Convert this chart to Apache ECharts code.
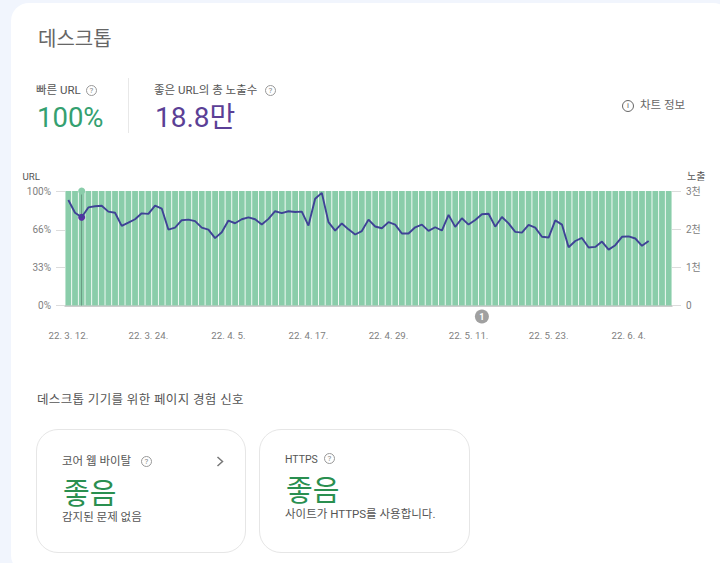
<!DOCTYPE html>
<html lang="ko">
<head>
<meta charset="utf-8">
<title>데스크톱</title>
<script src="https://cdn.jsdelivr.net/npm/echarts@6/dist/echarts.min.js"></script>
<style>
  html, body { margin: 0; padding: 0; width: 720px; height: 563px; overflow: hidden; background: #f1f5fd; }
  body { font-family: Roboto, "Noto Sans CJK KR", sans-serif; color: #555; }
  #sheet { position: absolute; left: 11px; top: 3px; width: 720px; height: 570px; background: #fff; border-radius: 18px; }
  #main { position: absolute; left: 0; top: 0; width: 720px; height: 563px; }
  .t { position: absolute; white-space: nowrap; line-height: 1; }
  .q { position: absolute; width: 9px; height: 9px; border: 1px solid #999; border-radius: 50%; color: #888;
       font-size: 8px; line-height: 9px; text-align: center; }
  .box { position: absolute; top: 429px; height: 122px; border: 1px solid #e6e6e6; border-radius: 22px; background: #fff; }
  #rule { position: absolute; left: 128px; top: 78px; width: 1px; height: 55px; background: #e8e8e8; }
</style>
</head>
<body>
<div id="sheet"></div>
<div id="main"></div>

<div class="t" style="left:38px;top:29px;font-size:20px;color:#666;">데스크톱</div>

<div class="t" style="left:36px;top:85px;font-size:11.5px;">빠른 URL</div>
<div class="q" style="left:86px;top:85px;">?</div>
<div class="t" style="left:37px;top:104px;font-size:27.5px;color:#34a070;">100%</div>
<div id="rule"></div>
<div class="t" style="left:154px;top:85px;font-size:11.5px;">좋은 URL의 총 노출수</div>
<div class="q" style="left:265px;top:85px;">?</div>
<div class="t" style="left:155px;top:104px;font-size:28px;color:#5b3f96;">18.8만</div>

<div class="q" style="left:622px;top:100px;width:10px;height:10px;line-height:10px;border-color:#666;color:#666;">i</div>
<div class="t" style="left:640px;top:100px;font-size:11.5px;color:#666;">차트 정보</div>

<div class="t" style="left:37px;top:394px;font-size:12.5px;letter-spacing:.35px;">데스크톱 기기를 위한 페이지 경험 신호</div>

<div class="box" style="left:36px;width:208px;"></div>
<div class="t" style="left:62px;top:456px;font-size:11.5px;">코어 웹 바이탈</div>
<div class="q" style="left:141px;top:456px;">?</div>
<svg style="position:absolute;left:214px;top:455px;" width="12" height="13"><polyline points="3.5,2 8.5,6.5 3.5,11" fill="none" stroke="#777" stroke-width="1.5"/></svg>
<div class="t" style="left:63px;top:480px;font-size:29px;color:#2a8f50;">좋음</div>
<div class="t" style="left:62px;top:512px;font-size:11.5px;">감지된 문제 없음</div>

<div class="box" style="left:259px;width:209px;"></div>
<div class="t" style="left:285px;top:455px;font-size:10.5px;">HTTPS</div>
<div class="q" style="left:324px;top:453px;">?</div>
<div class="t" style="left:286px;top:477px;font-size:29px;color:#2a8f50;">좋음</div>
<div class="t" style="left:285px;top:509px;font-size:11.5px;">사이트가 HTTPS를 사용합니다.</div>

<script>
var dates = [
  '22. 3. 12.','22. 3. 13.','22. 3. 14.','22. 3. 15.','22. 3. 16.','22. 3. 17.','22. 3. 18.','22. 3. 19.','22. 3. 20.','22. 3. 21.',
  '22. 3. 22.','22. 3. 23.','22. 3. 24.','22. 3. 25.','22. 3. 26.','22. 3. 27.','22. 3. 28.','22. 3. 29.','22. 3. 30.','22. 3. 31.',
  '22. 4. 1.','22. 4. 2.','22. 4. 3.','22. 4. 4.','22. 4. 5.','22. 4. 6.','22. 4. 7.','22. 4. 8.','22. 4. 9.','22. 4. 10.',
  '22. 4. 11.','22. 4. 12.','22. 4. 13.','22. 4. 14.','22. 4. 15.','22. 4. 16.','22. 4. 17.','22. 4. 18.','22. 4. 19.','22. 4. 20.',
  '22. 4. 21.','22. 4. 22.','22. 4. 23.','22. 4. 24.','22. 4. 25.','22. 4. 26.','22. 4. 27.','22. 4. 28.','22. 4. 29.','22. 4. 30.',
  '22. 5. 1.','22. 5. 2.','22. 5. 3.','22. 5. 4.','22. 5. 5.','22. 5. 6.','22. 5. 7.','22. 5. 8.','22. 5. 9.','22. 5. 10.',
  '22. 5. 11.','22. 5. 12.','22. 5. 13.','22. 5. 14.','22. 5. 15.','22. 5. 16.','22. 5. 17.','22. 5. 18.','22. 5. 19.','22. 5. 20.',
  '22. 5. 21.','22. 5. 22.','22. 5. 23.','22. 5. 24.','22. 5. 25.','22. 5. 26.','22. 5. 27.','22. 5. 28.','22. 5. 29.','22. 5. 30.',
  '22. 5. 31.','22. 6. 1.','22. 6. 2.','22. 6. 3.','22. 6. 4.','22. 6. 5.','22. 6. 6.','22. 6. 7.','22. 6. 8.','22. 6. 9.',
  '22. 6. 10.'
];

// fast URL share, every day at 100%
var fastUrl = [
  100,100,100,100,100,100,100,100,100,100,100,100,100,100,100,100,100,100,100,100,
  100,100,100,100,100,100,100,100,100,100,100,100,100,100,100,100,100,100,100,100,
  100,100,100,100,100,100,100,100,100,100,100,100,100,100,100,100,100,100,100,100,
  100,100,100,100,100,100,100,100,100,100,100,100,100,100,100,100,100,100,100,100,
  100,100,100,100,100,100,100,100,100,100,100
];

// impressions
var impressions = [
  2765,2430,2310,2570,2600,2615,2460,2430,2085,2170,2260,2415,2400,2615,2540,1990,2040,2235,2250,2210,
  2040,1990,1765,1920,2225,2155,2260,2310,2260,2120,2270,2470,2420,2470,2450,2460,2095,2795,2950,2185,
  1960,2150,1995,1860,1950,2250,2070,2025,2185,2120,1885,1885,2050,2120,1955,2050,1965,2375,2060,2285,
  2120,2240,2390,2405,2065,2320,2150,1930,1910,2110,2040,1800,1780,2230,2120,1525,1690,1770,1520,1535,
  1675,1465,1580,1800,1810,1755,1565,1690
];

var leftTicks = [0, 33, 66, 100];
var highlightIndex = 2;
var annotationIndex = 62;

var chart = echarts.init(document.getElementById('main'), null, { renderer: 'svg' });
var labelFont = 'Roboto, "Noto Sans CJK KR", sans-serif';

chart.setOption({
  animation: false,
  backgroundColor: 'transparent',
  grid: { left: 65, right: 48, top: 191, height: 114.5 },
  xAxis: {
    type: 'category',
    data: dates,
    axisLine: { lineStyle: { color: '#bdbdbd', width: 1.5 } },
    axisTick: { show: false },
    axisLabel: { interval: 11, margin: 25, fontSize: 9.7, color: '#808080', fontFamily: labelFont, hideOverlap: false }
  },
  yAxis: [{
    type: 'value',
    name: 'URL',
    nameLocation: 'end',
    nameGap: 10,
    nameTextStyle: { align: 'right', padding: [0, 25, 0, 0], fontSize: 9.7, color: '#555', fontFamily: labelFont },
    min: 0,
    max: 100,
    axisLine: { show: false },
    axisTick: { show: true, length: 9, customValues: leftTicks, lineStyle: { color: '#dcdcdc' } },
    axisLabel: { margin: 14, customValues: leftTicks, fontSize: 10, color: '#808080', fontFamily: labelFont, formatter: '{value}%' },
    splitLine: { show: false }
  }, {
    type: 'value',
    name: '노출',
    nameLocation: 'end',
    nameGap: 10,
    nameTextStyle: { align: 'left', padding: [0, 0, 0, 15], fontSize: 10, color: '#555', fontFamily: labelFont },
    min: 0,
    max: 3000,
    interval: 1000,
    axisLine: { show: false },
    axisTick: { show: true, length: 9, lineStyle: { color: '#dcdcdc' } },
    axisLabel: {
      margin: 14,
      fontSize: 10,
      color: '#808080',
      fontFamily: labelFont,
      formatter: function (v) { return v === 0 ? '0' : (v / 1000) + '천'; }
    },
    splitLine: { show: false }
  }],
  series: [{
    name: '빠른 URL',
    type: 'bar',
    yAxisIndex: 0,
    data: fastUrl,
    barWidth: 5.8,
    itemStyle: { color: '#8acdaa' },
    markPoint: {
      silent: true,
      data: [{
        coord: [highlightIndex, 100],
        symbol: 'circle',
        symbolSize: 7,
        itemStyle: { color: '#8acdaa' },
        label: { show: false }
      }, {
        coord: [annotationIndex, 0],
        symbol: 'circle',
        symbolSize: 14,
        symbolOffset: [0, 11],
        itemStyle: { color: '#a0a0a0' },
        label: { show: true, formatter: '1', position: 'inside', offset: [0, 0], color: '#fff', fontSize: 9, fontWeight: 'bold', fontFamily: labelFont }
      }]
    }
  }, {
    name: '노출',
    type: 'line',
    yAxisIndex: 1,
    z: 5,
    data: impressions,
    showSymbol: false,
    lineStyle: { color: '#3f4296', width: 1.9 },
    itemStyle: { color: '#3f4296' },
    markLine: {
      silent: true,
      symbol: 'none',
      label: { show: false },
      lineStyle: { color: '#6a9c84', width: 1, type: 'solid', opacity: 1 },
      data: [{ xAxis: highlightIndex }]
    },
    markPoint: {
      silent: true,
      data: [{
        coord: [highlightIndex, impressions[highlightIndex]],
        symbol: 'circle',
        symbolSize: 7,
        itemStyle: { color: '#5a2ea6' },
        label: { show: false }
      }]
    }
  }]
});
</script>
</body>
</html>
